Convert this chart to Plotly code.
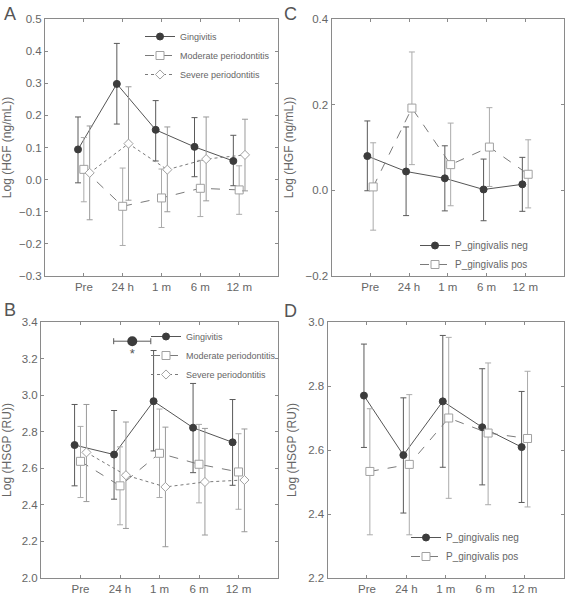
import numpy as np
import plotly.graph_objects as go

# ---------------- data ----------------
timepoints = ["Pre", "24 h", "1 m", "6 m", "12 m"]

# Panel A: Log(HGF) by diagnosis
hgf_ging = [0.094, 0.298, 0.155, 0.102, 0.058]
hgf_ging_hi = [0.195, 0.424, 0.246, 0.193, 0.138]
hgf_ging_lo = [-0.010, 0.173, 0.058, 0.009, -0.019]
hgf_mod = [0.032, -0.083, -0.057, -0.027, -0.032]
hgf_mod_hi = [0.131, 0.036, 0.033, 0.060, 0.043]
hgf_mod_lo = [-0.069, -0.205, -0.149, -0.115, -0.108]
hgf_sev = [0.021, 0.112, 0.031, 0.064, 0.077]
hgf_sev_hi = [0.167, 0.289, 0.164, 0.195, 0.188]
hgf_sev_lo = [-0.125, -0.064, -0.100, -0.066, -0.035]

# Panel B: Log(HSGP) by diagnosis
hsgp_ging = [2.727, 2.675, 2.967, 2.822, 2.742]
hsgp_ging_hi = [2.949, 2.916, 3.244, 3.064, 2.976]
hsgp_ging_lo = [2.504, 2.431, 2.695, 2.576, 2.507]
hsgp_mod = [2.638, 2.504, 2.682, 2.622, 2.580]
hsgp_mod_hi = [2.829, 2.717, 2.924, 2.840, 2.789]
hsgp_mod_lo = [2.440, 2.291, 2.440, 2.411, 2.376]
hsgp_sev = [2.687, 2.562, 2.498, 2.525, 2.536]
hsgp_sev_hi = [2.949, 2.853, 2.825, 2.818, 2.815]
hsgp_sev_lo = [2.418, 2.271, 2.171, 2.235, 2.253]
# significance marker in B (between 24 h and 1 m)
sig_x = [1.31]
sig_y = [3.295]
sig_xerr = [0.47]
sig_text = ["*"]

# Panel C: Log(HGF) by P. gingivalis status
hgf_neg = [0.080, 0.044, 0.028, 0.002, 0.014]
hgf_neg_hi = [0.162, 0.148, 0.104, 0.073, 0.077]
hgf_neg_lo = [-0.001, -0.059, -0.048, -0.071, -0.049]
hgf_pos = [0.008, 0.192, 0.060, 0.101, 0.0375]
hgf_pos_hi = [0.111, 0.323, 0.157, 0.193, 0.118]
hgf_pos_lo = [-0.093, 0.060, -0.036, 0.009, -0.041]

# Panel D: Log(HSGP) by P. gingivalis status
hsgp_neg = [2.770, 2.584, 2.752, 2.671, 2.609]
hsgp_neg_hi = [2.931, 2.763, 2.958, 2.854, 2.783]
hsgp_neg_lo = [2.608, 2.403, 2.546, 2.491, 2.436]
hsgp_pos = [2.533, 2.555, 2.700, 2.653, 2.636]
hsgp_pos_hi = [2.729, 2.773, 2.952, 2.872, 2.846]
hsgp_pos_lo = [2.335, 2.335, 2.449, 2.429, 2.422]

# ---------------- style ----------------
FONT = "Liberation Sans, Arial, sans-serif"
TXT = "#666666"
FRAME = "#8a8a8a"
xs = np.arange(len(timepoints))

STY = {
    "ging": dict(symbol="circle", size=7, mcolor="#3c3c3c", mline="#3c3c3c",
                 lcolor="#555555", dash="solid", ecolor="#5a5a5a"),
    "mod": dict(symbol="square", size=8, mcolor="white", mline="#a0a0a0",
                lcolor="#7a7a7a", dash="dash", ecolor="#ababab"),
    "sev": dict(symbol="diamond", size=7, mcolor="white", mline="#a0a0a0",
                lcolor="#7a7a7a", dash="dot", ecolor="#9a9a9a"),
}

fig = go.Figure()


def add_series(name, vals, hi, lo, off, sty, xa, ya, legend):
    s = STY[sty]
    v = np.array(vals)
    fig.add_trace(go.Scatter(
        x=xs + off, y=v, name=name, mode="lines+markers",
        xaxis=xa, yaxis=ya, legend=legend,
        line=dict(color=s["lcolor"], width=1, dash=s["dash"]),
        marker=dict(symbol=s["symbol"], size=s["size"], color=s["mcolor"],
                    line=dict(color=s["mline"], width=1)),
        error_y=dict(type="data", symmetric=False,
                     array=np.array(hi) - v, arrayminus=v - np.array(lo),
                     color=s["ecolor"], thickness=1, width=3),
    ))


# A
add_series("Gingivitis", hgf_ging, hgf_ging_hi, hgf_ging_lo, -0.15, "ging", "x", "y", "legend")
add_series("Moderate periodontitis", hgf_mod, hgf_mod_hi, hgf_mod_lo, 0.0, "mod", "x", "y", "legend")
add_series("Severe periodontitis", hgf_sev, hgf_sev_hi, hgf_sev_lo, 0.15, "sev", "x", "y", "legend")
# B
add_series("Gingivitis", hsgp_ging, hsgp_ging_hi, hsgp_ging_lo, -0.15, "ging", "x2", "y2", "legend2")
add_series("Moderate periodontitis", hsgp_mod, hsgp_mod_hi, hsgp_mod_lo, 0.0, "mod", "x2", "y2", "legend2")
add_series("Severe periodontitis", hsgp_sev, hsgp_sev_hi, hsgp_sev_lo, 0.15, "sev", "x2", "y2", "legend2")
fig.add_trace(go.Scatter(
    x=sig_x, y=sig_y, mode="markers+text", text=sig_text, textposition="bottom center",
    textfont=dict(size=13, color="#555555", family=FONT),
    marker=dict(symbol="circle", size=10, color="#3c3c3c"),
    error_x=dict(type="data", array=sig_xerr, color="#5a5a5a", thickness=1, width=3),
    xaxis="x2", yaxis="y2", showlegend=False))
# C
add_series("P_gingivalis neg", hgf_neg, hgf_neg_hi, hgf_neg_lo, -0.075, "ging", "x3", "y3", "legend3")
add_series("P_gingivalis pos", hgf_pos, hgf_pos_hi, hgf_pos_lo, 0.075, "mod", "x3", "y3", "legend3")
# D
add_series("P_gingivalis neg", hsgp_neg, hsgp_neg_hi, hsgp_neg_lo, -0.075, "ging", "x4", "y4", "legend4")
add_series("P_gingivalis pos", hsgp_pos, hsgp_pos_hi, hsgp_pos_lo, 0.075, "mod", "x4", "y4", "legend4")

W, H = 565, 595


def px_x(p):
    return p / W


def px_y(p):
    return 1 - p / H


axis_common = dict(showline=True, linecolor=FRAME, linewidth=1, mirror="ticks",
                   ticks="inside", ticklen=3, tickcolor=FRAME, showgrid=False,
                   zeroline=False, automargin=False,
                   tickfont=dict(family=FONT, size=11.5, color=TXT))

def xaxis(dom, anchor):
    return dict(domain=dom, anchor=anchor, range=[-1, 5], tickmode="array",
                tickvals=list(xs), ticktext=timepoints, **axis_common)

def yaxis(dom, anchor, rng, dtick, title):
    return dict(domain=dom, anchor=anchor, range=rng, dtick=dtick, tick0=0,
                tickformat=".1f",
                title=dict(text=title, font=dict(family=FONT, size=12, color=TXT), standoff=9),
                **axis_common)

dA = [px_x(45), px_x(278)]
dB = [px_x(41), px_x(278)]
dC = [px_x(331.5), px_x(564)]
dD = [px_x(327.5), px_x(564)]
vTop = [px_y(276), px_y(19)]
vBot = [px_y(578), px_y(322)]

leg_common = dict(bgcolor="rgba(0,0,0,0)", borderwidth=0, itemwidth=30,
                  xanchor="left", yanchor="top", tracegroupgap=0)

fig.update_layout(
    width=W, height=H, margin=dict(l=0, r=0, t=0, b=0, autoexpand=False),
    paper_bgcolor="white", plot_bgcolor="white",
    font=dict(family=FONT, color=TXT),
    xaxis=xaxis(dA, "y"), yaxis=yaxis(vTop, "x", [-0.3, 0.5], 0.1, "Log (HGF (ng/mL))"),
    xaxis2=xaxis(dB, "y2"), yaxis2=yaxis(vBot, "x2", [2.0, 3.4], 0.2, "Log (HSGP (RU))"),
    xaxis3=xaxis(dC, "y3"), yaxis3=yaxis(vTop, "x3", [-0.2, 0.4], 0.2, "Log (HGF (ng/mL))"),
    xaxis4=xaxis(dD, "y4"), yaxis4=yaxis(vBot, "x4", [2.2, 3.0], 0.2, "Log (HSGP (RU))"),
    legend=dict(x=px_x(140), y=px_y(22), font=dict(family=FONT, size=9, color=TXT), **leg_common),
    legend2=dict(x=px_x(146), y=px_y(322), font=dict(family=FONT, size=9, color=TXT), **leg_common),
    legend3=dict(x=px_x(415), y=px_y(231), font=dict(family=FONT, size=10, color=TXT), **leg_common),
    legend4=dict(x=px_x(406), y=px_y(523), font=dict(family=FONT, size=10, color=TXT), **leg_common),
)

for lbl, x, y in [("A", 2, 2), ("B", 2, 298), ("C", 282, 2), ("D", 282, 299)]:
    fig.add_annotation(text=lbl, x=px_x(x), y=px_y(y), xref="paper", yref="paper",
                       xanchor="left", yanchor="top", showarrow=False,
                       font=dict(family=FONT, size=18, color="#555555"))

fig.write_html("out.html", config={"displayModeBar": False},
               post_script="document.body.style.margin='0px';")
